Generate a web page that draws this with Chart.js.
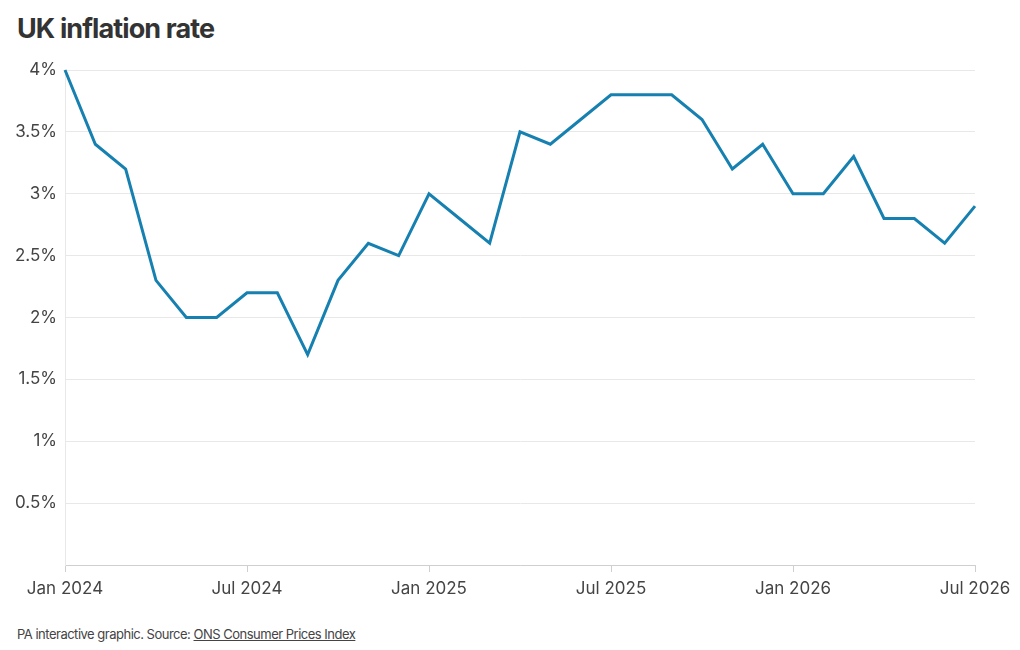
<!DOCTYPE html>
<html>
<head>
<meta charset="utf-8">
<script src="https://cdn.jsdelivr.net/npm/chart.js@4"></script>
<style>
  body { margin: 0; background: #fff; font-family: Inter, "Noto Sans", sans-serif; color: #333; }
  #wrap { position: relative; width: 1020px; height: 650px; }
  h1 { position: absolute; left: 17px; top: 12px; margin: 0; font-size: 27px; font-weight: 700; letter-spacing: -0.9px; color: #333; }
  #chartBox { position: absolute; left: 0; top: 50px; width: 1020px; height: 560px; }
  #source { position: absolute; left: 17px; top: 626px; font-size: 13px; letter-spacing: -0.5px; color: #444; }
  #source span { text-decoration: underline; }
</style>
</head>
<body>
<div id="wrap">
  <h1>UK inflation rate</h1>
  <div id="chartBox"><canvas id="inflacaoChart"></canvas></div>
  <div id="source">PA interactive graphic. Source: <span>ONS Consumer Prices Index</span></div>
</div>
<script>
// meses de Jan 2024 ate Jul 2026
const meses = [
  "Jan 2024", "Feb 2024", "Mar 2024", "Apr 2024", "May 2024", "Jun 2024",
  "Jul 2024", "Aug 2024", "Sep 2024", "Oct 2024", "Nov 2024", "Dec 2024",
  "Jan 2025", "Feb 2025", "Mar 2025", "Apr 2025", "May 2025", "Jun 2025",
  "Jul 2025", "Aug 2025", "Sep 2025", "Oct 2025", "Nov 2025", "Dec 2025",
  "Jan 2026", "Feb 2026", "Mar 2026", "Apr 2026", "May 2026", "Jun 2026",
  "Jul 2026"
];
const taxa = [
  4.0, 3.4, 3.2, 2.3, 2.0, 2.0,
  2.2, 2.2, 1.7, 2.3, 2.6, 2.5,
  3.0, 2.8, 2.6, 3.5, 3.4, 3.6,
  3.8, 3.8, 3.8, 3.6, 3.2, 3.4,
  3.0, 3.0, 3.3, 2.8, 2.8, 2.6,
  2.9
];
const xTicks = ["Jan 2024", "Jul 2024", "Jan 2025", "Jul 2025", "Jan 2026", "Jul 2026"];
const yTicks = [0.5, 1, 1.5, 2, 2.5, 3, 3.5, 4];

const fonte = { family: "Inter, 'Noto Sans', sans-serif", size: 17 };

const pontos = taxa.map((v, i) => ({ x: i, y: v }));

const ctx = document.getElementById("inflacaoChart").getContext("2d");
new Chart(ctx, {
  type: "line",
  data: {
    datasets: [
      {
        label: "UK inflation rate",
        data: pontos,
        borderColor: "#1680b0",
        borderWidth: 3,
        pointRadius: 0,
        tension: 0,
        borderJoinStyle: "miter",
        clip: false,
      },
    ],
  },
  options: {
    responsive: true,
    maintainAspectRatio: false,
    animation: false,
    layout: { padding: { top: 20, right: 45, bottom: 0, left: 0 } },
    plugins: { legend: { display: false }, tooltip: { enabled: false } },
    scales: {
      x: {
        type: "linear",
        min: 0,
        max: meses.length - 1,
        afterBuildTicks: (axis) => {
          axis.ticks = xTicks.map((t) => ({ value: meses.indexOf(t) }));
        },
        ticks: {
          callback: (v) => meses[v],
          color: "#444",
          font: fonte,
          maxRotation: 0,
          autoSkip: false,
          padding: 7,
        },
        grid: { drawOnChartArea: false, tickLength: 7, color: "#cfcfcf" },
        border: { color: "#cfcfcf", width: 1 },
        afterFit: (axis) => { axis.height = 45; },
      },
      y: {
        min: 0,
        max: 4,
        afterBuildTicks: (axis) => {
          axis.ticks = [{ value: 0 }].concat(yTicks.map((v) => ({ value: v })));
        },
        ticks: {
          callback: (v) => (v === 0 ? "" : v + "%"),
          color: "#444",
          font: fonte,
          padding: 8,
        },
        grid: { color: "#e8e8e8", drawTicks: false },
        border: { color: "#e8e8e8" },
        afterFit: (axis) => { axis.width = 65; },
      },
    },
  },
});
</script>
</body>
</html>
